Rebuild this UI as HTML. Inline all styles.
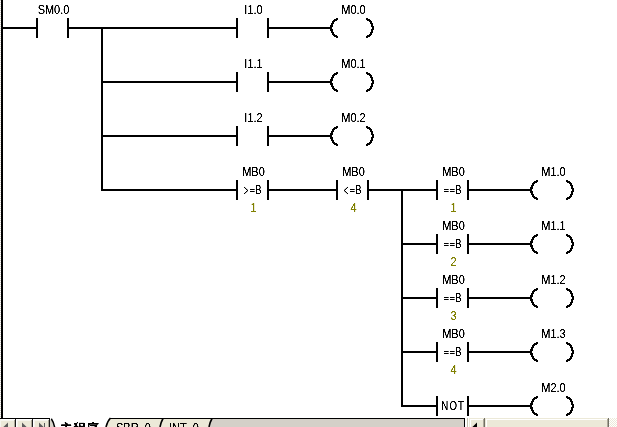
<!DOCTYPE html>
<html><head><meta charset="utf-8"><title>LAD</title>
<style>
html,body{margin:0;padding:0;background:#fff;overflow:hidden}
svg{display:block;font-family:"Liberation Sans",sans-serif;font-size:11px}
.l rect,.l path{shape-rendering:crispEdges}
</style></head><body>
<svg width="617" height="427" viewBox="0 0 617 427">
<rect x="0" y="0" width="617" height="427" fill="#fff"/>
<g class="l">
<rect x="1" y="0" width="2" height="419" fill="#000"/>
<path d="M0.5,0 V418" stroke="#d4d0c8" stroke-width="1" stroke-dasharray="1 1" fill="none"/>
<rect x="3" y="27" width="33" height="2" fill="#000"/>
<rect x="36" y="18" width="2" height="20" fill="#000"/>
<rect x="67" y="18" width="2" height="20" fill="#000"/>
<rect x="69" y="27" width="167" height="2" fill="#000"/>
<rect x="236" y="18" width="2" height="20" fill="#000"/>
<rect x="267" y="18" width="2" height="20" fill="#000"/>
<rect x="269" y="27" width="62" height="2" fill="#000"/>
<path d="M337.6,18.7 A10,10 0 0 0 337.6,37.3" fill="none" stroke="#000" stroke-width="2.2"/>
<path d="M366.4,18.7 A10,10 0 0 1 366.4,37.3" fill="none" stroke="#000" stroke-width="2.2"/>
<rect x="101" y="27" width="2" height="164" fill="#000"/>
<rect x="101" y="81" width="135" height="2" fill="#000"/>
<rect x="236" y="72" width="2" height="20" fill="#000"/>
<rect x="267" y="72" width="2" height="20" fill="#000"/>
<rect x="269" y="81" width="62" height="2" fill="#000"/>
<path d="M337.6,72.7 A10,10 0 0 0 337.6,91.3" fill="none" stroke="#000" stroke-width="2.2"/>
<path d="M366.4,72.7 A10,10 0 0 1 366.4,91.3" fill="none" stroke="#000" stroke-width="2.2"/>
<rect x="101" y="135" width="135" height="2" fill="#000"/>
<rect x="236" y="126" width="2" height="20" fill="#000"/>
<rect x="267" y="126" width="2" height="20" fill="#000"/>
<rect x="269" y="135" width="62" height="2" fill="#000"/>
<path d="M337.6,126.7 A10,10 0 0 0 337.6,145.3" fill="none" stroke="#000" stroke-width="2.2"/>
<path d="M366.4,126.7 A10,10 0 0 1 366.4,145.3" fill="none" stroke="#000" stroke-width="2.2"/>
<rect x="101" y="189" width="135" height="2" fill="#000"/>
<rect x="236" y="180" width="2" height="20" fill="#000"/>
<rect x="267" y="180" width="2" height="20" fill="#000"/>
<rect x="269" y="189" width="67" height="2" fill="#000"/>
<rect x="336" y="180" width="2" height="20" fill="#000"/>
<rect x="367" y="180" width="2" height="20" fill="#000"/>
<rect x="369" y="189" width="67" height="2" fill="#000"/>
<rect x="436" y="180" width="2" height="20" fill="#000"/>
<rect x="467" y="180" width="2" height="20" fill="#000"/>
<rect x="469" y="189" width="62" height="2" fill="#000"/>
<path d="M537.6,180.7 A10,10 0 0 0 537.6,199.3" fill="none" stroke="#000" stroke-width="2.2"/>
<path d="M566.4,180.7 A10,10 0 0 1 566.4,199.3" fill="none" stroke="#000" stroke-width="2.2"/>
<rect x="401" y="189" width="2" height="218" fill="#000"/>
<rect x="401" y="243" width="35" height="2" fill="#000"/>
<rect x="436" y="234" width="2" height="20" fill="#000"/>
<rect x="467" y="234" width="2" height="20" fill="#000"/>
<rect x="469" y="243" width="62" height="2" fill="#000"/>
<path d="M537.6,234.7 A10,10 0 0 0 537.6,253.3" fill="none" stroke="#000" stroke-width="2.2"/>
<path d="M566.4,234.7 A10,10 0 0 1 566.4,253.3" fill="none" stroke="#000" stroke-width="2.2"/>
<rect x="401" y="297" width="35" height="2" fill="#000"/>
<rect x="436" y="288" width="2" height="20" fill="#000"/>
<rect x="467" y="288" width="2" height="20" fill="#000"/>
<rect x="469" y="297" width="62" height="2" fill="#000"/>
<path d="M537.6,288.7 A10,10 0 0 0 537.6,307.3" fill="none" stroke="#000" stroke-width="2.2"/>
<path d="M566.4,288.7 A10,10 0 0 1 566.4,307.3" fill="none" stroke="#000" stroke-width="2.2"/>
<rect x="401" y="351" width="35" height="2" fill="#000"/>
<rect x="436" y="342" width="2" height="20" fill="#000"/>
<rect x="467" y="342" width="2" height="20" fill="#000"/>
<rect x="469" y="351" width="62" height="2" fill="#000"/>
<path d="M537.6,342.7 A10,10 0 0 0 537.6,361.3" fill="none" stroke="#000" stroke-width="2.2"/>
<path d="M566.4,342.7 A10,10 0 0 1 566.4,361.3" fill="none" stroke="#000" stroke-width="2.2"/>
<rect x="401" y="405" width="35" height="2" fill="#000"/>
<rect x="436" y="396" width="2" height="20" fill="#000"/>
<rect x="467" y="396" width="2" height="20" fill="#000"/>
<rect x="469" y="405" width="62" height="2" fill="#000"/>
<path d="M537.6,396.7 A10,10 0 0 0 537.6,415.3" fill="none" stroke="#000" stroke-width="2.2"/>
<path d="M566.4,396.7 A10,10 0 0 1 566.4,415.3" fill="none" stroke="#000" stroke-width="2.2"/>
</g>
<g class="b">
<rect x="0" y="418" width="50" height="1" fill="#000"/>
<rect x="0" y="419" width="16" height="8" fill="#ece9d8"/>
<rect x="0" y="419" width="15" height="1" fill="#fff"/>
<rect x="0" y="420" width="14" height="1" fill="#f6f5ee"/>
<rect x="0" y="419" width="1" height="8" fill="#f6f5ee"/>
<rect x="14" y="420" width="1" height="7" fill="#aca899"/>
<rect x="15" y="419" width="1" height="8" fill="#1c1c1c"/>
<rect x="16" y="419" width="17" height="8" fill="#ece9d8"/>
<rect x="16" y="419" width="16" height="1" fill="#fff"/>
<rect x="16" y="420" width="15" height="1" fill="#f6f5ee"/>
<rect x="16" y="419" width="1" height="8" fill="#fff"/>
<rect x="17" y="420" width="1" height="7" fill="#f6f5ee"/>
<rect x="31" y="420" width="1" height="7" fill="#aca899"/>
<rect x="32" y="419" width="1" height="8" fill="#1c1c1c"/>
<rect x="33" y="419" width="17" height="8" fill="#ece9d8"/>
<rect x="33" y="419" width="16" height="1" fill="#fff"/>
<rect x="33" y="420" width="15" height="1" fill="#f6f5ee"/>
<rect x="33" y="419" width="1" height="8" fill="#fff"/>
<rect x="34" y="420" width="1" height="7" fill="#f6f5ee"/>
<rect x="48" y="420" width="1" height="7" fill="#aca899"/>
<rect x="49" y="419" width="1" height="8" fill="#1c1c1c"/>
<path d="M8,422.4 L8,427 L3.4,427 Z" fill="#5c5c5c"/>
<path d="M22,422.4 L22,427 L26.6,427 Z" fill="#5c5c5c"/>
<path d="M39,422.4 L39,427 L43.6,427 Z" fill="#5c5c5c"/>
<rect x="44" y="423" width="1" height="4" fill="#5c5c5c"/>
<path d="M50,420 L51.4,420 Q53.2,423 54.2,427 L50,427 Z" fill="#d8d5cb"/>
<path d="M51.3,418.7 Q53.4,421.6 54.7,427.5" fill="none" stroke="#000" stroke-width="1.5"/>
<rect x="106" y="419" width="359" height="8" fill="#d4d0c8"/>
<path d="M100,418 L110,418 Q107,421 105.5,427 L100,427 Z" fill="#fff"/>
<path d="M110,419 L163,419 Q161,422 159.5,427 L105.5,427 Q107,421 110,419 Z" fill="#ece9d8"/>
<path d="M163,419 L212,419 Q210,422 208.5,427 L159.5,427 Q161,422 163,419 Z" fill="#ece9d8"/>
<rect x="110" y="418" width="355" height="1" fill="#000"/>
<path d="M110.5,418 Q107.5,421 106,427" fill="none" stroke="#000" stroke-width="1.6"/>
<path d="M163,418.5 Q161,422 160,427" fill="none" stroke="#000" stroke-width="1.6"/>
<path d="M212,418.5 Q210,422 209,427" fill="none" stroke="#000" stroke-width="1.6"/>
<rect x="464" y="418" width="1" height="9" fill="#000"/>
<rect x="467" y="418" width="1" height="9" fill="#c4c1ae"/>
<rect x="469" y="418" width="16" height="9" fill="#ece9d8"/>
<rect x="470" y="419" width="14" height="1" fill="#fff"/>
<rect x="470" y="419" width="1" height="8" fill="#fff"/>
<rect x="483" y="419" width="1" height="8" fill="#aca899"/>
<rect x="484" y="418" width="1" height="9" fill="#716f64"/>
<path d="M477,422.4 L477,427 L472.4,427 Z" fill="#000"/>
<rect x="485" y="418" width="124" height="9" fill="#ece9d8"/>
<rect x="486" y="419" width="122" height="1" fill="#fff"/>
<rect x="486" y="419" width="1" height="8" fill="#fff"/>
<rect x="607" y="419" width="1" height="8" fill="#aca899"/>
<rect x="608" y="418" width="1" height="9" fill="#716f64"/>
<rect x="609" y="418" width="8" height="9" fill="#fff"/>
<rect x="610" y="418" width="1" height="1" fill="#ece9d8"/>
<rect x="612" y="418" width="1" height="1" fill="#ece9d8"/>
<rect x="614" y="418" width="1" height="1" fill="#ece9d8"/>
<rect x="616" y="418" width="1" height="1" fill="#ece9d8"/>
<rect x="609" y="419" width="1" height="1" fill="#ece9d8"/>
<rect x="611" y="419" width="1" height="1" fill="#ece9d8"/>
<rect x="613" y="419" width="1" height="1" fill="#ece9d8"/>
<rect x="615" y="419" width="1" height="1" fill="#ece9d8"/>
<rect x="610" y="420" width="1" height="1" fill="#ece9d8"/>
<rect x="612" y="420" width="1" height="1" fill="#ece9d8"/>
<rect x="614" y="420" width="1" height="1" fill="#ece9d8"/>
<rect x="616" y="420" width="1" height="1" fill="#ece9d8"/>
<rect x="609" y="421" width="1" height="1" fill="#ece9d8"/>
<rect x="611" y="421" width="1" height="1" fill="#ece9d8"/>
<rect x="613" y="421" width="1" height="1" fill="#ece9d8"/>
<rect x="615" y="421" width="1" height="1" fill="#ece9d8"/>
<rect x="610" y="422" width="1" height="1" fill="#ece9d8"/>
<rect x="612" y="422" width="1" height="1" fill="#ece9d8"/>
<rect x="614" y="422" width="1" height="1" fill="#ece9d8"/>
<rect x="616" y="422" width="1" height="1" fill="#ece9d8"/>
<rect x="609" y="423" width="1" height="1" fill="#ece9d8"/>
<rect x="611" y="423" width="1" height="1" fill="#ece9d8"/>
<rect x="613" y="423" width="1" height="1" fill="#ece9d8"/>
<rect x="615" y="423" width="1" height="1" fill="#ece9d8"/>
<rect x="610" y="424" width="1" height="1" fill="#ece9d8"/>
<rect x="612" y="424" width="1" height="1" fill="#ece9d8"/>
<rect x="614" y="424" width="1" height="1" fill="#ece9d8"/>
<rect x="616" y="424" width="1" height="1" fill="#ece9d8"/>
<rect x="609" y="425" width="1" height="1" fill="#ece9d8"/>
<rect x="611" y="425" width="1" height="1" fill="#ece9d8"/>
<rect x="613" y="425" width="1" height="1" fill="#ece9d8"/>
<rect x="615" y="425" width="1" height="1" fill="#ece9d8"/>
<rect x="610" y="426" width="1" height="1" fill="#ece9d8"/>
<rect x="612" y="426" width="1" height="1" fill="#ece9d8"/>
<rect x="614" y="426" width="1" height="1" fill="#ece9d8"/>
<rect x="616" y="426" width="1" height="1" fill="#ece9d8"/>
</g>
<defs><filter id="t" filterUnits="userSpaceOnUse" x="0" y="0" width="617" height="427" color-interpolation-filters="sRGB"><feComponentTransfer><feFuncA type="table" tableValues="0 0 0.55 1 1 1"/></feComponentTransfer></filter></defs>
<g filter="url(#t)">
<text transform="translate(53.5,14) scale(1,1.125)" fill="#000" text-anchor="middle" >SM0.0</text>
<text transform="translate(253.5,14) scale(1,1.125)" fill="#000" text-anchor="middle" >I1.0</text>
<text transform="translate(353.5,14) scale(1,1.125)" fill="#000" text-anchor="middle" >M0.0</text>
<text transform="translate(253.5,68) scale(1,1.125)" fill="#000" text-anchor="middle" >I1.1</text>
<text transform="translate(353.5,68) scale(1,1.125)" fill="#000" text-anchor="middle" >M0.1</text>
<text transform="translate(253.5,122) scale(1,1.125)" fill="#000" text-anchor="middle" >I1.2</text>
<text transform="translate(353.5,122) scale(1,1.125)" fill="#000" text-anchor="middle" >M0.2</text>
<text transform="translate(253.5,176) scale(1,1.125)" fill="#000" text-anchor="middle" >MB0</text>
<g><text transform="translate(243.6,196) scale(0.7,1.45)">&gt;</text><text transform="translate(249.45,193) scale(0.84,0.9)" stroke="#000" stroke-width="0.16">=</text><text transform="translate(255.3,194) scale(0.85,1.125)">B</text></g>
<text transform="translate(253.5,212) scale(1,1.125)" fill="#808000" text-anchor="middle" >1</text>
<text transform="translate(353.5,176) scale(1,1.125)" fill="#000" text-anchor="middle" >MB0</text>
<g><text transform="translate(344,196) scale(0.7,1.45)">&lt;</text><text transform="translate(349.45,193) scale(0.84,0.9)" stroke="#000" stroke-width="0.16">=</text><text transform="translate(355.3,194) scale(0.85,1.125)">B</text></g>
<text transform="translate(353.5,212) scale(1,1.125)" fill="#808000" text-anchor="middle" >4</text>
<text transform="translate(453.5,176) scale(1,1.125)" fill="#000" text-anchor="middle" >MB0</text>
<g><text transform="translate(443.45,193) scale(0.84,0.9)" stroke="#000" stroke-width="0.16">=</text><text transform="translate(449.45,193) scale(0.84,0.9)" stroke="#000" stroke-width="0.16">=</text><text transform="translate(455.3,194) scale(0.85,1.125)">B</text></g>
<text transform="translate(453.5,212) scale(1,1.125)" fill="#808000" text-anchor="middle" >1</text>
<text transform="translate(553.5,176) scale(1,1.125)" fill="#000" text-anchor="middle" >M1.0</text>
<text transform="translate(453.5,230) scale(1,1.125)" fill="#000" text-anchor="middle" >MB0</text>
<g><text transform="translate(443.45,247) scale(0.84,0.9)" stroke="#000" stroke-width="0.16">=</text><text transform="translate(449.45,247) scale(0.84,0.9)" stroke="#000" stroke-width="0.16">=</text><text transform="translate(455.3,248) scale(0.85,1.125)">B</text></g>
<text transform="translate(453.5,266) scale(1,1.125)" fill="#808000" text-anchor="middle" >2</text>
<text transform="translate(553.5,230) scale(1,1.125)" fill="#000" text-anchor="middle" >M1.1</text>
<text transform="translate(453.5,284) scale(1,1.125)" fill="#000" text-anchor="middle" >MB0</text>
<g><text transform="translate(443.45,301) scale(0.84,0.9)" stroke="#000" stroke-width="0.16">=</text><text transform="translate(449.45,301) scale(0.84,0.9)" stroke="#000" stroke-width="0.16">=</text><text transform="translate(455.3,302) scale(0.85,1.125)">B</text></g>
<text transform="translate(453.5,320) scale(1,1.125)" fill="#808000" text-anchor="middle" >3</text>
<text transform="translate(553.5,284) scale(1,1.125)" fill="#000" text-anchor="middle" >M1.2</text>
<text transform="translate(453.5,338) scale(1,1.125)" fill="#000" text-anchor="middle" >MB0</text>
<g><text transform="translate(443.45,355) scale(0.84,0.9)" stroke="#000" stroke-width="0.16">=</text><text transform="translate(449.45,355) scale(0.84,0.9)" stroke="#000" stroke-width="0.16">=</text><text transform="translate(455.3,356) scale(0.85,1.125)">B</text></g>
<text transform="translate(453.5,374) scale(1,1.125)" fill="#808000" text-anchor="middle" >4</text>
<text transform="translate(553.5,338) scale(1,1.125)" fill="#000" text-anchor="middle" >M1.3</text>
<text transform="translate(441.3,410) scale(0.88,1.125)" x="0 9.4 18.9">NOT</text>
<text transform="translate(553.5,392) scale(1,1.125)" fill="#000" text-anchor="middle" >M2.0</text>
<text transform="translate(79.8,432.5) scale(1,1)" fill="#000" text-anchor="middle" font-weight="bold" font-size="12.5" letter-spacing="0.7" font-family="&quot;Liberation Sans&quot;,&quot;Noto Sans CJK SC&quot;,sans-serif">主程序</text>
<text transform="translate(116,432) scale(1,1.125)" fill="#000" text-anchor="start" >SBR_0</text>
<text transform="translate(169.0,432) scale(1,1.125)" fill="#000" text-anchor="start" >INT_0</text>
</g>
</svg>
</body></html>
